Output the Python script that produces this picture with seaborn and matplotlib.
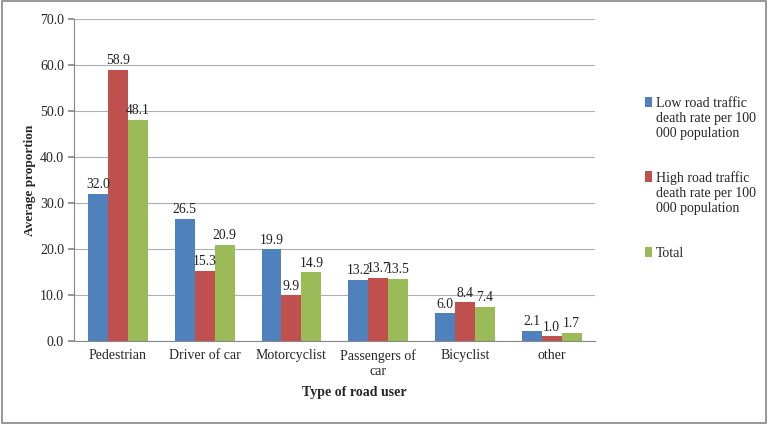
import numpy as np
import pandas as pd
import matplotlib.pyplot as plt
import seaborn as sns
from matplotlib.patches import Rectangle

# ── Data ─────────────────────────────────────
road_users = ["Pedestrian", "Driver of car", "Motorcyclist", "Passengers of\ncar", "Bicyclist", "other"]
series_names = ["Low road traffic\ndeath rate per 100\n000 population",
                "High road traffic\ndeath rate per 100\n000 population",
                "Total"]
low_rate = [32.0, 26.5, 19.9, 13.2, 6.0, 2.1]
high_rate = [58.9, 15.3, 9.9, 13.7, 8.4, 1.0]
total = [48.1, 20.9, 14.9, 13.5, 7.4, 1.7]
colors = ["#4F81BD", "#C0504D", "#9BBB59"]

df = pd.DataFrame({
    "user": road_users * 3,
    "series": np.repeat(series_names, len(road_users)),
    "value": low_rate + high_rate + total,
})

# ── Plot ─────────────────────────────────────
sns.set_theme(style="white")
plt.rcParams['font.family'] = ['Liberation Serif', 'DejaVu Serif']

fig = plt.figure(figsize=(7.68, 4.24), dpi=100)
ax = fig.add_axes([0.097, 0.196, 0.678, 0.759])

sns.barplot(data=df, x="user", y="value", hue="series", palette=colors,
            width=0.69, gap=0, saturation=1, edgecolor="none", ax=ax)

for cont in ax.containers:
    ax.bar_label(cont, fmt="%.1f", padding=2, fontsize=9.8, color="#222222")

ax.set_ylim(0, 70)
ax.set_yticks(np.arange(0, 71, 10))
ax.set_yticklabels([f"{v:.1f}" for v in np.arange(0, 71, 10)], fontsize=10)
ax.set_xlim(-0.5, len(road_users) - 0.5)
ax.set_xticks(range(len(road_users)))
ax.set_xticklabels(road_users, fontsize=10)
ax.set_xticks(np.arange(-0.5, len(road_users)), minor=True)
ax.tick_params(axis="x", which="major", length=0, pad=6)
ax.tick_params(axis="x", which="minor", length=4, color="#888888", direction="out")
ax.tick_params(axis="y", length=4, color="#888888", direction="out", left=True)
ax.yaxis.grid(True, color="#b0b0b0", linewidth=0.8)
ax.set_axisbelow(True)
for s in ["top", "right"]:
    ax.spines[s].set_visible(False)
for s in ["left", "bottom"]:
    ax.spines[s].set_color("#888888")
    ax.spines[s].set_linewidth(0.8)

ax.set_xlabel("Type of road user", fontsize=10, fontweight="bold", labelpad=6)
ax.xaxis.label.set_x(0.538)
ax.set_ylabel("Average proportion", fontsize=9.5, fontweight="bold", labelpad=3)

leg = ax.legend(loc="center left", bbox_to_anchor=(1.072, 0.505), frameon=False,
                fontsize=10, handlelength=0.5, handleheight=0.75,
                handletextpad=0.25, labelspacing=2.3)
# put the colour square next to the first text line, like Excel
for col in leg._legend_handle_box.get_children():
    for row in col.get_children():
        row.align = "top"

# figure border
fig.add_artist(Rectangle((0.002, 0.002), 0.996, 0.995, transform=fig.transFigure,
                         fill=False, edgecolor="#888888", linewidth=1.2))

plt.savefig("out.png", dpi=100)
